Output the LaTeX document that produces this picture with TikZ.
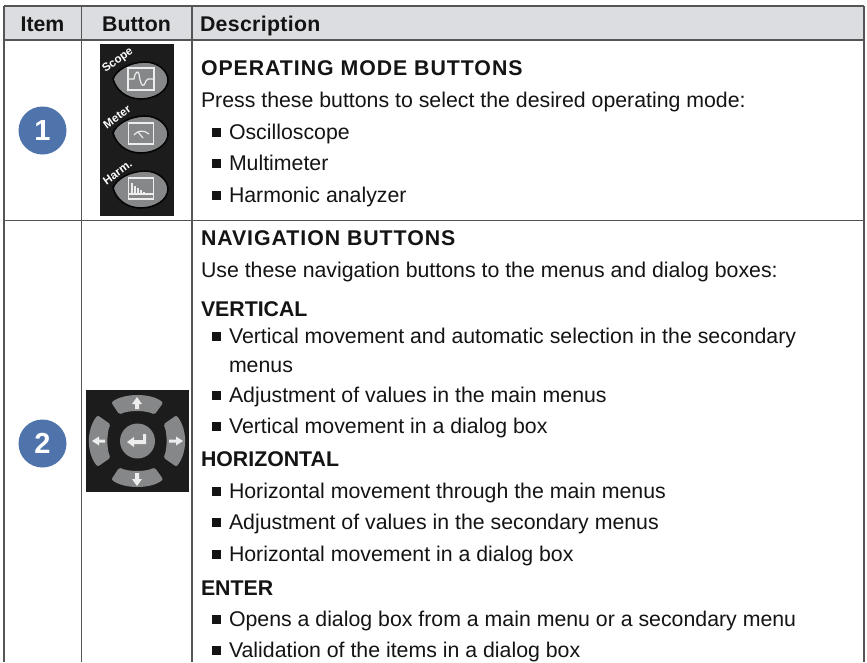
\documentclass[tikz,border=0pt]{standalone}
\usepackage{fontspec}
\setmainfont{Liberation Sans}
\definecolor{rule}{HTML}{555555}
\definecolor{headfill}{HTML}{DCDDE0}
\definecolor{badge}{HTML}{4F73AB}
\definecolor{panel}{HTML}{1C1C1C}
\definecolor{key}{HTML}{858788}
\definecolor{keyedge}{HTML}{050505}
\definecolor{glyph}{HTML}{EDEDED}
\tikzset{
  x=1pt,y=-1pt,
  gridline/.style={draw=rule,line width=1.8pt},
  txt/.style={anchor=base west,inner sep=0pt,outer sep=0pt,font=\fontsize{21.3}{25}\selectfont,text=black!92},
  hd/.style={txt,font=\fontsize{21.3}{25}\selectfont\bfseries},
  hdc/.style={hd,anchor=base},
  bul/.style={fill=black!92,draw=none},
  numbadge/.style={circle,fill=badge,minimum size=48pt,inner sep=0pt,text=white,font=\fontsize{29}{30}\selectfont\bfseries},
  keyshape/.style={fill=key,draw=keyedge,line width=1.6pt},
  navkey/.style={fill=key,draw=key,line width=4pt,line join=round},
  icon/.style={draw=glyph,line width=1.2pt},
  keylabel/.style={text=white,font=\fontsize{11.5}{12}\selectfont\bfseries,rotate=36,inner sep=0pt},
  arrowglyph/.style={fill=glyph,draw=none}
}
\newcommand{\bitem}[3]{\fill[bul] (212.3,#1-11) rectangle +(8.5,8.5); \node[txt] (#3) at (229,#1) {#2};}
\newcommand{\teardrop}[1]{\path[keyshape] (113,#1-1) .. controls (116,#1-10) and (130,#1-18) .. (145,#1-18) .. controls (158,#1-18) and (168,#1-9) .. (168,#1) .. controls (168,#1+11) and (155,#1+19) .. (141,#1+19) .. controls (126,#1+19) and (116,#1+10) .. (113,#1-1) -- cycle;}
\begin{document}
\begin{tikzpicture}
\useasboundingbox (0,0) rectangle (867,662);
\fill[white] (0,0) rectangle (867,662);
% header band
\fill[headfill] (4,6) rectangle (864,40);
% grid
\coordinate (tl) at (4,6); \coordinate (tr) at (864,6);
\coordinate (hl) at (4,40); \coordinate (hr) at (864,40);
\coordinate (rl) at (4,220.5); \coordinate (rr) at (864,220.5);
\coordinate (bl) at (4,662); \coordinate (br) at (864,662);
\coordinate (c1t) at (81.5,6); \coordinate (c1b) at (81.5,662);
\coordinate (c2t) at (192,6); \coordinate (c2b) at (192,662);
\draw[gridline] (tl) -- (tr) (hl) -- (hr) (rl) -- (rr) (tl) -- (bl) (tr) -- (br) (c1t) -- (c1b) (c2t) -- (c2b);
% header text
\node[hdc] (hitem) at (42.5,31) {Item};
\node[hdc] (hbutton) at (136.5,31) {Button};
\node[hd] (hdesc) at (200,31) {\addfontfeature{LetterSpace=1.5}Description};
% badges
\node[numbadge] (b1) at (42.5,130.5) {1};
\node[numbadge] (b2) at (42.5,443.5) {2};
% mode buttons panel
\fill[panel] (100,44) rectangle (174,216);
\teardrop{80}
\teardrop{134}
\teardrop{189}
\node[keylabel] (lscope) at (118,60.5) {Scope};
\node[keylabel] (lmeter) at (117,117) {Meter};
\node[keylabel] (lharm) at (117.5,172.5) {Harm.};
% scope icon
\draw[icon] (128,68) rectangle (154,90);
\draw[icon] (128,79) -- (134,79) .. controls (135,72) and (138,70) .. (139,74) .. controls (140,82) and (142,87) .. (144,85) .. controls (146,82) and (146,79) .. (148,79) -- (154,79);
% meter icon
\draw[icon] (128.5,123) rectangle (153.5,144);
\draw[icon] (134,135) .. controls (137,130.5) and (144,129.5) .. (149,134);
\draw[icon] (138,132) -- (143,138);
% harmonic icon
\draw[icon] (128.5,178) rectangle (153.5,199);
\draw[icon] (128.5,194) -- (153.5,194);
\draw[icon] (132,183) -- (132,194) (135,186) -- (135,194) (138,188) -- (138,194) (141,190) -- (141,194) (144,191.5) -- (144,194) (147,192.5) -- (147,194);
% nav panel
\fill[panel] (86,390) rectangle (189,492);
\path[navkey] (114,403) .. controls (125,395) and (150,395) .. (160.5,403) -- (154,412) .. controls (146,408) and (128,408) .. (120,412) -- cycle;
\path[navkey] (114,479) .. controls (125,487) and (150,487) .. (160.5,479) -- (154,470) .. controls (146,474) and (128,474) .. (120,470) -- cycle;
\path[navkey] (98,418) .. controls (88.5,430) and (88.5,452) .. (98,464) -- (108,457) .. controls (104.5,450) and (104.5,432) .. (108,425) -- cycle;
\path[navkey] (176,418) .. controls (185.5,430) and (185.5,452) .. (176,464) -- (166,457) .. controls (169.5,450) and (169.5,432) .. (166,425) -- cycle;
\node[circle,fill=key,minimum size=35pt,inner sep=0pt] (enter) at (137.5,441) {};
% nav arrows
\path[arrowglyph] (137,397) -- (142,404) -- (139,404) -- (139,409) -- (135,409) -- (135,404) -- (132,404) -- cycle;
\path[arrowglyph] (137,486) -- (142,479) -- (139,479) -- (139,473) -- (135,473) -- (135,479) -- (132,479) -- cycle;
\path[arrowglyph] (92,441) -- (99,436.5) -- (99,439.5) -- (105,439.5) -- (105,442.5) -- (99,442.5) -- (99,445.5) -- cycle;
\path[arrowglyph] (183,441) -- (176,436.5) -- (176,439.5) -- (169,439.5) -- (169,442.5) -- (176,442.5) -- (176,445.5) -- cycle;
\path[arrowglyph] (127,442) -- (134,437) -- (134,440) -- (143,440) -- (143,434) -- (146,434) -- (146,444) -- (134,444) -- (134,447) -- cycle;
% row 1 text
\node[hd] (t1) at (201,75) {\addfontfeature{LetterSpace=4.5}OPERATING MODE BUTTONS};
\node[txt] (t2) at (201,107) {Press these buttons to select the desired operating mode:};
\bitem{139}{Oscilloscope}{t3}
\bitem{170}{Multimeter}{t4}
\bitem{202}{Harmonic analyzer}{t5}
% row 2 text
\node[hd] (n1) at (201,245) {\addfontfeature{LetterSpace=4.5}NAVIGATION BUTTONS};
\node[txt] (n2) at (201,277) {Use these navigation buttons to the menus and dialog boxes:};
\node[hd] (n3) at (201,316) {VERTICAL};
\bitem{343}{Vertical movement and automatic selection in the secondary}{n4}
\node[txt] (n5) at (229,372) {menus};
\bitem{402}{Adjustment of values in the main menus}{n6}
\bitem{433}{Vertical movement in a dialog box}{n7}
\node[hd] (n8) at (201,466) {HORIZONTAL};
\bitem{498}{Horizontal movement through the main menus}{n9}
\bitem{529}{Adjustment of values in the secondary menus}{n10}
\bitem{561}{Horizontal movement in a dialog box}{n11}
\node[hd] (n12) at (201,595) {ENTER};
\bitem{626}{Opens a dialog box from a main menu or a secondary menu}{n13}
\bitem{657}{Validation of the items in a dialog box}{n14}
\end{tikzpicture}
\end{document}
